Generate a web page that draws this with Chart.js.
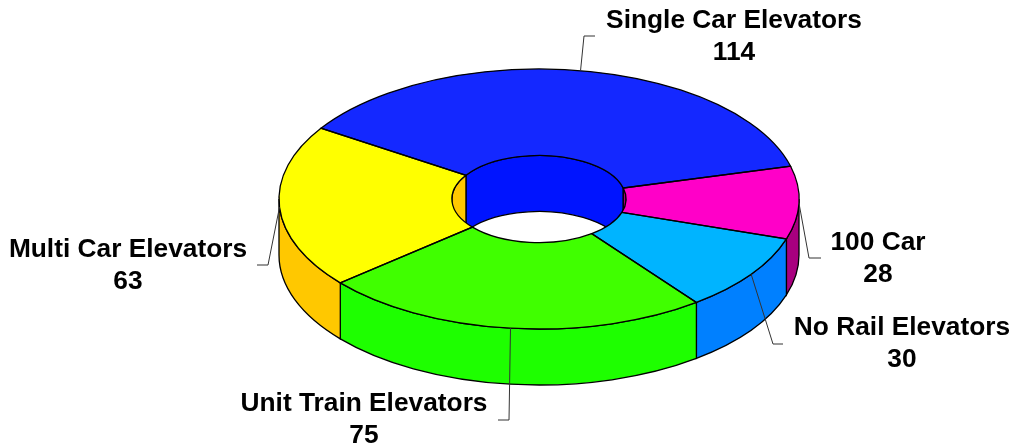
<!DOCTYPE html>
<html>
<head>
<meta charset="utf-8">
<title>Elevators</title>
<script src="https://cdn.jsdelivr.net/npm/chart.js@4/dist/chart.umd.min.js"></script>
<style>
    html, body { margin: 0; padding: 0; background: #ffffff; }
    #chartBox { width: 1016px; height: 448px; }
</style>
</head>
<body>
<div id="chartBox"><canvas id="elevatorChart" width="1016" height="448"></canvas></div>
<script>
// Data
const categories = ['Single Car Elevators', '100 Car', 'No Rail Elevators', 'Unit Train Elevators', 'Multi Car Elevators'];
const values = [114, 28, 30, 75, 63];
const topColors = ['#1428ff', '#ff00c8', '#00b4ff', '#40ff00', '#ffff00'];
const wallColors = ['#0014ff', '#a8007f', '#0080ff', '#1eff00', '#ffc800'];

// Where the tilted ring sits on the page
const ring = { x: 539, y: 199, rx: 260, ry: 130, depth: 56 };

// Label centre and leader elbow, in the same order as categories
const labelCentres = [[734, 21], [878, 243], [902, 328], [364, 404], [128, 250]];
const leaderElbows = [[584, 36, 595], [809, 258, 821], [773, 344, 783], [509, 420, 498], [268, 265, 257]];

// Wall of a slice, limited to the part of the circle that faces the viewer
function drawWall(ctx, rx, ry, start, end, from, to, color) {
    for (let k = -1; k < 3; k++) {
        const a = Math.max(start, from + k * 2 * Math.PI);
        const b = Math.min(end, to + k * 2 * Math.PI);
        if (a >= b) continue;
        ctx.beginPath();
        ctx.ellipse(ring.x, ring.y, rx, ry, 0, a, b);
        ctx.ellipse(ring.x, ring.y + ring.depth, rx, ry, 0, b, a, true);
        ctx.closePath();
        ctx.fillStyle = color;
        ctx.fill();
        ctx.strokeStyle = '#000000';
        ctx.lineWidth = 1.3;
        ctx.stroke();
    }
}

const ringPlugin = {
    id: 'ringPlugin',
    beforeDatasetsDraw(chart) {
        const ctx = chart.ctx;
        const arcs = chart.getDatasetMeta(0).data;
        const scale = ring.rx / arcs[0].outerRadius;
        const holeX = arcs[0].innerRadius * scale;
        const holeY = holeX * ring.ry / ring.rx;

        // inner walls at the back of the hole, outer walls at the front
        arcs.forEach((arc, i) => {
            drawWall(ctx, holeX, holeY, arc.startAngle, arc.endAngle, Math.PI, 2 * Math.PI, wallColors[i]);
        });
        arcs.forEach((arc, i) => {
            drawWall(ctx, ring.rx, ring.ry, arc.startAngle, arc.endAngle, 0, Math.PI, wallColors[i]);
        });

        // the library draws the slices flattened by this transform
        ctx.save();
        ctx.translate(ring.x, ring.y);
        ctx.scale(scale, ring.ry / arcs[0].outerRadius);
        ctx.translate(-arcs[0].x, -arcs[0].y);
    },
    afterDatasetsDraw(chart) {
        const ctx = chart.ctx;
        ctx.restore();

        const arcs = chart.getDatasetMeta(0).data;
        const scale = ring.rx / arcs[0].outerRadius;
        const holeX = arcs[0].innerRadius * scale;
        const holeY = holeX * ring.ry / ring.rx;

        ctx.strokeStyle = '#000000';
        ctx.lineWidth = 1.3;
        arcs.forEach(arc => {
            ctx.beginPath();
            ctx.ellipse(ring.x, ring.y, ring.rx, ring.ry, 0, arc.startAngle, arc.endAngle);
            ctx.ellipse(ring.x, ring.y, holeX, holeY, 0, arc.endAngle, arc.startAngle, true);
            ctx.closePath();
            ctx.stroke();
        });

        // leader lines and labels
        ctx.lineWidth = 1;
        arcs.forEach((arc, i) => {
            const mid = (arc.startAngle + arc.endAngle) / 2;
            const elbow = leaderElbows[i];
            ctx.beginPath();
            ctx.moveTo(ring.x + ring.rx * Math.cos(mid), ring.y + ring.ry * Math.sin(mid));
            ctx.lineTo(elbow[0], elbow[1]);
            ctx.lineTo(elbow[2], elbow[1]);
            ctx.strokeStyle = '#333333';
            ctx.stroke();

            ctx.fillStyle = '#000000';
            ctx.font = 'bold 26.3px "Liberation Sans", Arial, sans-serif';
            ctx.textAlign = 'center';
            ctx.textBaseline = 'middle';
            ctx.fillText(categories[i], labelCentres[i][0], labelCentres[i][1]);
            ctx.fillText(String(values[i]), labelCentres[i][0], labelCentres[i][1] + 32);
        });
    }
};

new Chart(document.getElementById('elevatorChart'), {
    type: 'doughnut',
    data: {
        labels: categories,
        datasets: [{
            data: values,
            backgroundColor: topColors,
            borderWidth: 0
        }]
    },
    options: {
        responsive: false,
        animation: false,
        rotation: 303,
        cutout: '33.5%',
        plugins: {
            legend: { display: false },
            tooltip: { enabled: false }
        }
    },
    plugins: [ringPlugin]
});
</script>
</body>
</html>
